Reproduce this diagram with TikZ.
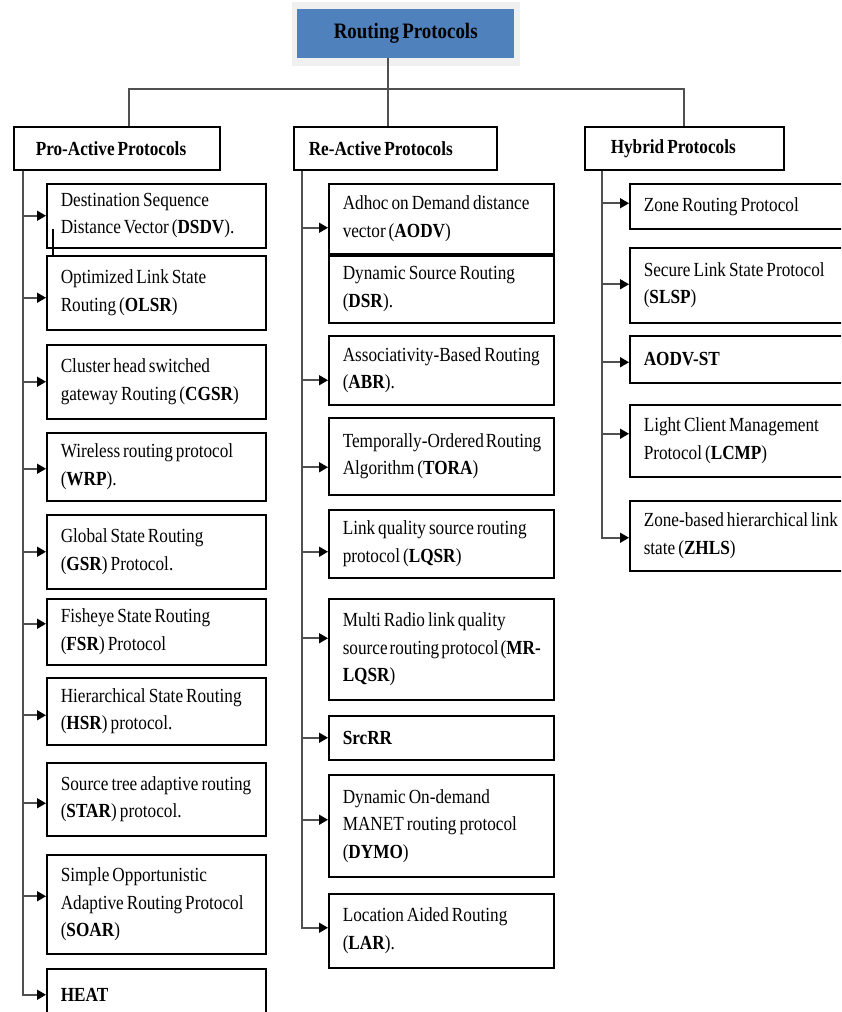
\documentclass[tikz,border=0pt]{standalone}
\usepackage{fontspec}
\setmainfont{Liberation Serif}[FakeStretch=0.86, WordSpace=0.7]
\usepackage{tikz}
\usetikzlibrary{arrows.meta, calc}
\definecolor{rootblue}{RGB}{79,129,189}
\definecolor{shadowgray}{RGB}{240,240,240}
\definecolor{linkgray}{RGB}{80,80,80}
\hyphenpenalty=10000
\exhyphenpenalty=10000

\tikzset{
    leaf/.style={draw, line width=1.5pt, anchor=north west, inner xsep=14pt, inner ysep=2pt, align=flush left, font=\fontsize{20}{27.5}\selectfont},
    proleaf/.style={leaf, text width=191pt},
    releaf/.style={leaf, text width=197pt},
    hybleaf/.style={leaf, text width=204pt},
    catbox/.style={draw, line width=1.5pt, anchor=north west, minimum height=43pt, inner ysep=0pt, align=flush left, font=\fontsize{20}{24}\selectfont\bfseries},
    link/.style={draw=linkgray, line width=1.6pt},
    arr/.style={link, -{Triangle[length=9pt,width=10pt,color=black]}}
}

\begin{document}
\begin{tikzpicture}[x=1pt,y=-1pt]
        \clip (0,0) rectangle (841,1012);
        \fill[shadowgray] (292,2) rectangle (520,66);
        \node[fill=rootblue, anchor=north west, minimum width=217pt, minimum height=49pt, font=\fontsize{22}{26}\selectfont\bfseries] (root) at (297,9) {Routing Protocols};
        
        \node[catbox, text width=162pt, inner xsep=22pt] (pro) at (13,126) {Pro-Active Protocols};
        \node[catbox, text width=173pt, inner xsep=15pt] (re) at (293,126) {Re-Active Protocols};
        \node[catbox, text width=147pt, inner xsep=26pt] (hyb) at (584,126) {Hybrid Protocols};
        
        \coordinate (hub) at (388,89);
        \draw[link] (hub |- root.south) -- (hub |- re.north);
        \draw[link] ([xshift=12pt]pro.north) |- (hub) -| (hyb.north);
        
        \node[proleaf, minimum height=64pt] (dsdv) at (46,183) {Destination Sequence\\Distance Vector (\textbf{DSDV}).};
        \node[proleaf, minimum height=74pt] (olsr) at (46,255) {Optimized Link State\\Routing (\textbf{OLSR})};
        \node[proleaf, minimum height=74pt] (cgsr) at (46,344) {Cluster head switched\\gateway Routing (\textbf{CGSR})};
        \node[proleaf, minimum height=68pt] (wrp) at (46,432) {Wireless routing protocol\\(\textbf{WRP}).};
        \node[proleaf, minimum height=74pt] (gsr) at (46,514) {Global State Routing\\(\textbf{GSR}) Protocol.};
        \node[proleaf, minimum height=66pt] (fsr) at (46,598) {Fisheye State Routing\\(\textbf{FSR}) Protocol};
        \node[proleaf, minimum height=67pt] (hsr) at (46,677) {Hierarchical~State~Routing\\(\textbf{HSR}) protocol.};
        \node[proleaf, minimum height=73pt] (star) at (46,762) {Source~tree~adaptive~routing\\(\textbf{STAR}) protocol.};
        \node[proleaf, minimum height=99pt] (soar) at (46,854) {Simple Opportunistic\\Adaptive~Routing~Protocol\\(\textbf{SOAR})};
        \node[proleaf, minimum height=52pt] (heat) at (46,968) {\textbf{HEAT}};
        
        \node[releaf, minimum height=70pt] (aodv) at (328,183) {Adhoc~on~Demand~distance\\vector (\textbf{AODV})};
        \node[releaf, minimum height=67pt] (dsr) at (328,255) {Dynamic Source Routing\\(\textbf{DSR}).};
        \node[releaf, minimum height=69pt] (abr) at (328,335) {Associativity-Based~Routing\\(\textbf{ABR}).};
        \node[releaf, minimum height=77pt] (tora) at (328,417) {Temporally-Ordered~Routing\\Algorithm (\textbf{TORA})};
        \node[releaf, minimum height=68pt] (lqsr) at (328,509) {Link~quality~source~routing\\protocol (\textbf{LQSR})};
        \node[releaf, minimum height=101pt] (mrlqsr) at (328,598) {Multi Radio link quality\\source~routing~protocol~(\textbf{MR-}\\\textbf{LQSR})};
        \node[releaf, minimum height=44pt] (srcrr) at (328,715) {\textbf{SrcRR}};
        \node[releaf, minimum height=102pt] (dymo) at (328,774) {Dynamic On-demand\\MANET routing protocol\\(\textbf{DYMO})};
        \node[releaf, minimum height=74pt] (lar) at (328,893) {Location Aided Routing\\(\textbf{LAR}).};
        
        \node[hybleaf, minimum height=45pt] (zrp) at (629,183) {Zone Routing Protocol};
        \node[hybleaf, minimum height=75pt] (slsp) at (629,247) {Secure~Link~State~Protocol\\(\textbf{SLSP})};
        \node[hybleaf, minimum height=47pt] (aodvst) at (629,335) {\textbf{AODV-ST}};
        \node[hybleaf, minimum height=72pt] (lcmp) at (629,404) {Light Client Management\\Protocol (\textbf{LCMP})};
        \node[hybleaf, minimum height=70pt] (zhls) at (629,500) {Zone-based~hierarchical~link\\state (\textbf{ZHLS})};
        
        \coordinate (ps) at ([xshift=10pt]pro.south west);
        \coordinate (rs) at ([xshift=9pt]re.south west);
        \coordinate (hs) at ([xshift=18pt]hyb.south west);
        
        \draw[arr] (ps) |- (heat.west);
        \draw[arr] (rs) |- ($(lar.west)+(0,-3)$);
        \draw[arr] (hs) |- ($(zhls.west)+(0,2)$);
        
        \foreach \n/\d in {dsdv/0, olsr/5, cgsr/0, wrp/2, gsr/0, fsr/-8, hsr/4, star/4, soar/-8} {
            \coordinate (tip) at ($(\n.west)+(0,\d)$);
            \draw[arr] (tip -| ps) -- (tip);
        }
        \foreach \n/\d in {aodv/9, abr/10, tora/11, lqsr/8, mrlqsr/-11, srcrr/0, dymo/-6} {
            \coordinate (tip) at ($(\n.west)+(0,\d)$);
            \draw[arr] (tip -| rs) -- (tip);
        }
        \foreach \n/\d in {zrp/-3, slsp/-1, aodvst/3, lcmp/-7} {
            \coordinate (tip) at ($(\n.west)+(0,\d)$);
            \draw[arr] (tip -| hs) -- (tip);
        }
        
        \draw[line width=1.3pt] (53,229) -- (53,255);
        
    \end{tikzpicture}
\end{document}
